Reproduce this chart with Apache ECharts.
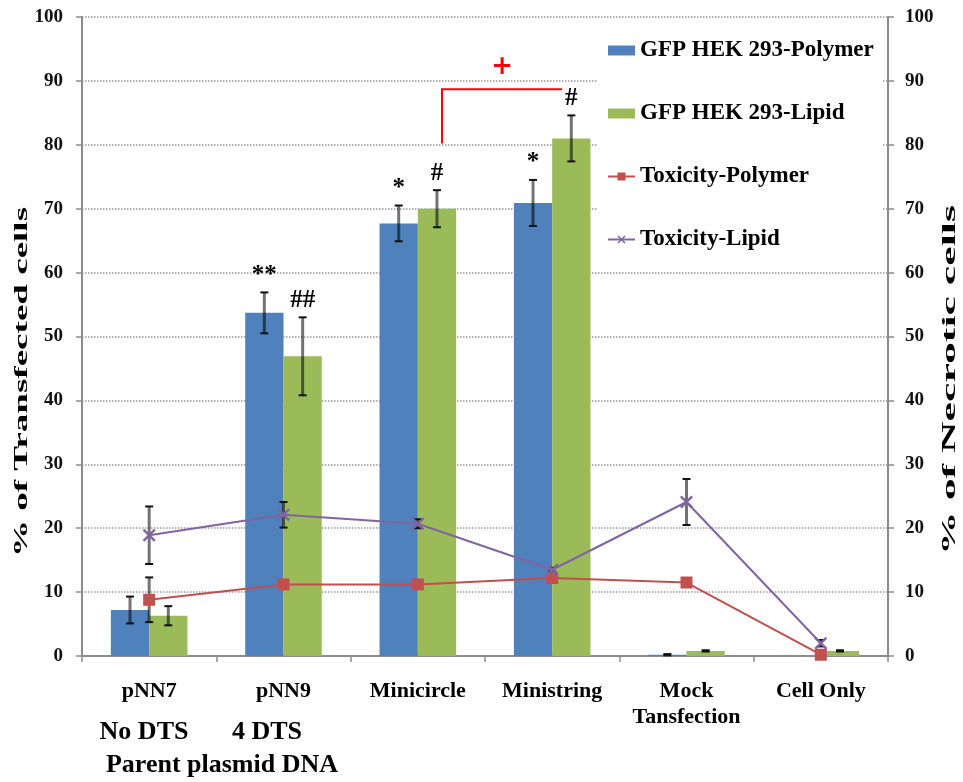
<!DOCTYPE html>
<html>
<head>
<meta charset="utf-8">
<script src="https://cdn.jsdelivr.net/npm/echarts@6/dist/echarts.min.js"></script>
<style>
  html, body { margin: 0; padding: 0; background: #fff; }
  #chart { width: 963px; height: 782px; }
</style>
</head>
<body>
<div id="chart"></div>
<script>
// Transfection efficiency (%) and necrosis (%) per DNA construct
const categories = ['pNN7', 'pNN9', 'Minicircle', 'Ministring', 'Mock\nTansfection', 'Cell Only'];

const gfpPolymer    = [7.2, 53.7, 67.7, 70.9, 0.2, 0];
const gfpPolymerErr = [2.1, 3.2, 2.8, 3.6, 0.1, 0];
const gfpLipid      = [6.3, 46.9, 70.0, 81.0, 0.8, 0.8];
const gfpLipidErr   = [1.5, 6.1, 2.9, 3.6, 0.1, 0.1];

const toxPolymer    = [8.8, 11.2, 11.2, 12.2, 11.5, 0.2];
const toxPolymerErr = [3.5, 0.4, 0.4, 0.4, 0.4, 0.2];
const toxLipid      = [18.9, 22.1, 20.7, 13.5, 24.1, 2.0];
const toxLipidErr   = [4.5, 2.0, 0.7, 0.3, 3.6, 0.5];

// significance marks above the bars
const polymerMarks = ['', '**', '*', '*', '', ''];
const lipidMarks   = ['', '##', '#', '#', '', ''];

// Minicircle vs Ministring (lipid) comparison bracket
const bracketFrom = 2;
const bracketTo = 3;
const bracketLow = 80.2;
const bracketHigh = 88.7;
const bracketMark = '+';

const yMin = 0, yMax = 100, yStep = 10;

const SERIF = '"Liberation Serif", "Times New Roman", serif';
const BLUE = '#4F81BD', GREEN = '#9BBB59', RED = '#C0504D', PURPLE = '#8064A2';
const BAR_GAP = 0.43;                       // barCategoryGap fraction
const BAR_HALF = (1 - BAR_GAP) / 4;          // offset of each bar centre in band units

function errorBars(values, errs, marks, offset, yAxisIndex) {
  return {
    type: 'custom',
    yAxisIndex: yAxisIndex,
    z: 5,
    silent: true,
    data: values.map((v, i) => [i, v, errs[i]]),
    renderItem: function (params, api) {
      const i = api.value(0), v = api.value(1), e = api.value(2);
      const band = api.size([1, 0])[0];
      const x = api.coord([i, v])[0] + offset * band;
      const yHi = api.coord([i, v + e])[1];
      const yLo = api.coord([i, Math.max(v - e, 0)])[1];
      const cap = 4;
      const children = [];
      if (e > 0) {
        children.push(
          { type: 'line', shape: { x1: x, y1: yHi, x2: x, y2: yLo },
            style: { stroke: 'rgba(0,0,0,0.55)', lineWidth: 3 } },
          { type: 'line', shape: { x1: x - cap, y1: yHi, x2: x + cap, y2: yHi },
            style: { stroke: '#111', lineWidth: 2 } },
          { type: 'line', shape: { x1: x - cap, y1: yLo, x2: x + cap, y2: yLo },
            style: { stroke: '#111', lineWidth: 2 } }
        );
      }
      const mark = marks ? marks[params.dataIndex] : '';
      if (mark) {
        children.push({
          type: 'text',
          style: { text: mark, x: x, y: yHi - 17, align: 'center', verticalAlign: 'middle',
                   font: 'bold 25px ' + SERIF, fill: '#000' }
        });
      }
      return { type: 'group', children: children };
    }
  };
}

const axisLabelStyle = { fontFamily: SERIF, fontWeight: 'bold', fontSize: 19, color: '#111' };
const axisLineStyle = { color: '#8c8c8c', width: 2 };

const chart = echarts.init(document.getElementById('chart'));
chart.setOption({
  backgroundColor: '#fff',
  animation: false,
  grid: { left: 82, right: 75, top: 17, bottom: 126 },
  legend: {
    orient: 'vertical',
    left: 598, top: 25,
    padding: [14, 9, 11, 9],
    backgroundColor: '#fff',
    itemWidth: 27, itemHeight: 10, itemGap: 40, itemTextGap: 6,
    textStyle: { fontFamily: SERIF, fontWeight: 'bold', fontSize: 23, color: '#000' },
    data: [
      { name: 'GFP HEK 293-Polymer', icon: 'rect' },
      { name: 'GFP HEK 293-Lipid', icon: 'rect' },
      'Toxicity-Polymer',
      'Toxicity-Lipid'
    ]
  },
  xAxis: {
    type: 'category',
    data: categories,
    axisLine: { lineStyle: axisLineStyle },
    axisTick: { show: true, length: 6, lineStyle: { color: '#8c8c8c', width: 1.5 } },
    axisLabel: { interval: 0, margin: 22, fontFamily: SERIF, fontWeight: 'bold', fontSize: 22,
                 lineHeight: 26, color: '#000' },
    splitLine: { show: false }
  },
  yAxis: [
    {
      type: 'value', min: yMin, max: yMax, interval: yStep, position: 'left',
      axisLine: { show: true, lineStyle: axisLineStyle },
      axisTick: { show: true, length: 6, lineStyle: { color: '#8c8c8c', width: 1.5 } },
      axisLabel: Object.assign({ margin: 19 }, axisLabelStyle),
      splitLine: { show: true, lineStyle: { type: 'dotted', color: '#9a9a9a', width: 1.5 } }
    },
    {
      type: 'value', min: yMin, max: yMax, interval: yStep, position: 'right',
      axisLine: { show: true, lineStyle: axisLineStyle },
      axisTick: { show: true, length: 6, lineStyle: { color: '#8c8c8c', width: 1.5 } },
      axisLabel: Object.assign({ margin: 17 }, axisLabelStyle),
      splitLine: { show: false }
    }
  ],
  series: [
    { type: 'bar', name: 'GFP HEK 293-Polymer', data: gfpPolymer, barGap: '0%',
      barCategoryGap: (BAR_GAP * 100) + '%', itemStyle: { color: BLUE } },
    { type: 'bar', name: 'GFP HEK 293-Lipid', data: gfpLipid, barGap: '0%',
      barCategoryGap: (BAR_GAP * 100) + '%', itemStyle: { color: GREEN } },
    errorBars(gfpPolymer, gfpPolymerErr, polymerMarks, -BAR_HALF, 0),
    errorBars(gfpLipid, gfpLipidErr, lipidMarks, BAR_HALF, 0),
    { type: 'line', name: 'Toxicity-Polymer', yAxisIndex: 1, data: toxPolymer, z: 7,
      symbol: 'rect', symbolSize: 12,
      lineStyle: { color: RED, width: 2 }, itemStyle: { color: RED } },
    { type: 'line', name: 'Toxicity-Lipid', yAxisIndex: 1, data: toxLipid, z: 7,
      symbol: 'path://M0,1.3L1.3,0L10,8.7L8.7,10ZM8.7,0L10,1.3L1.3,10L0,8.7Z', symbolSize: 13,
      lineStyle: { color: PURPLE, width: 2 }, itemStyle: { color: PURPLE } },
    errorBars(toxPolymer, toxPolymerErr, null, 0, 1),
    errorBars(toxLipid, toxLipidErr, null, 0, 1),
    {
      type: 'custom', z: 6, silent: true,
      data: [[bracketFrom, bracketTo, bracketLow, bracketHigh]],
      renderItem: function (params, api) {
        const band = api.size([1, 0])[0];
        const x1 = api.coord([api.value(0), 0])[0] + 0.18 * band;
        const x2 = api.coord([api.value(1), 0])[0] + 0.074 * band;
        const y1 = api.coord([0, api.value(2)])[1];
        const y2 = api.coord([0, api.value(3)])[1];
        return {
          type: 'group',
          children: [
            { type: 'polyline', shape: { points: [[x1, y1], [x1, y2], [x2, y2]] },
              style: { stroke: '#ff0000', lineWidth: 2, fill: null } },
            { type: 'text',
              style: { text: bracketMark, x: (x1 + x2) / 2, y: y2 - 22, align: 'center',
                       verticalAlign: 'middle', font: 'bold 26px "DejaVu Sans"', fill: '#ff0000' } }
          ]
        };
      }
    }
  ],
  graphic: [
    { type: 'text', x: 22, y: 382, rotation: Math.PI / 2, scaleX: 1.95,
      style: { text: '% of Transfected cells', align: 'center', verticalAlign: 'middle',
               font: 'bold 19px ' + SERIF, fill: '#000' } },
    { type: 'text', x: 950, y: 380, rotation: Math.PI / 2, scaleX: 2.3,
      style: { text: '% of Necrotic cells', align: 'center', verticalAlign: 'middle',
               font: 'bold 19px ' + SERIF, fill: '#000' } },
    { type: 'text', x: 144, y: 732,
      style: { text: 'No DTS', align: 'center', verticalAlign: 'middle',
               font: 'bold 26px ' + SERIF, fill: '#000' } },
    { type: 'text', x: 267, y: 732,
      style: { text: '4 DTS', align: 'center', verticalAlign: 'middle',
               font: 'bold 26px ' + SERIF, fill: '#000' } },
    { type: 'text', x: 222, y: 765,
      style: { text: 'Parent plasmid DNA', align: 'center', verticalAlign: 'middle',
               font: 'bold 26px ' + SERIF, fill: '#000' } }
  ]
});
</script>
</body>
</html>
